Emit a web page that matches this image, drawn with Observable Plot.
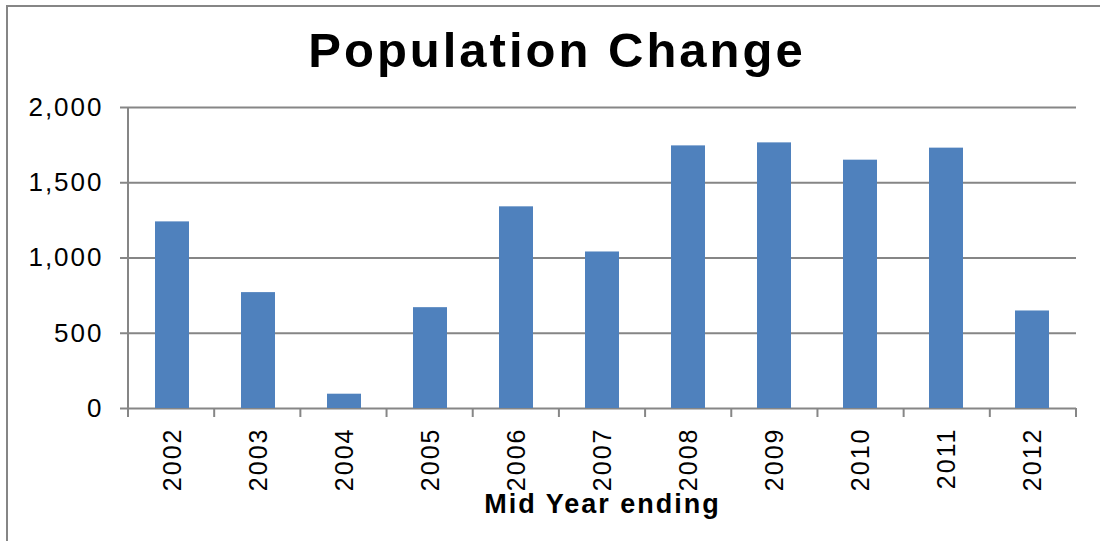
<!DOCTYPE html>
<html>
<head>
<meta charset="utf-8">
<script src="https://cdn.jsdelivr.net/npm/d3@7"></script>
<script src="https://cdn.jsdelivr.net/npm/@observablehq/plot@0.6"></script>
<style>
  html, body { margin: 0; padding: 0; background: #fff; overflow: hidden; }
  #wrap { position: relative; width: 1100px; height: 541px; overflow: hidden; background: #fff; font-family: "Liberation Sans", Arial, sans-serif; }
  #border { position: absolute; left: 6px; top: 5px; width: 1200px; height: 700px; border-top: 2px solid #868686; border-left: 2px solid #868686; }
  #title { position: absolute; left: 14px; top: 26px; width: 1086px; text-align: center; font-size: 49px; line-height: 49px; font-weight: bold; letter-spacing: 3px; color: #000; }
  #chart { position: absolute; left: 0; top: 75px; }
</style>
</head>
<body>
<div id="wrap">
  <div id="border"></div>
  <div id="title">Population Change</div>
  <div id="chart"></div>
</div>
<script>
const titleText = "Population Change";
const xLabel = "Mid Year ending";
const years = ["2002", "2003", "2004", "2005", "2006", "2007", "2008", "2009", "2010", "2011", "2012"];
const changes = [1240, 770, 95, 670, 1340, 1040, 1745, 1765, 1650, 1730, 648];
const yTicks = [0, 500, 1000, 1500, 2000];

const data = years.map((y, i) => ({year: y, value: changes[i]}));
const grey = "#868686";

const axisLines = (index, scales, values, dims) => {
  const g = d3.create("svg:g").attr("stroke", grey).attr("stroke-width", 2);
  const bottom = dims.height - dims.marginBottom;
  const left = dims.marginLeft;
  const right = dims.width - dims.marginRight;
  g.append("line").attr("x1", left).attr("x2", left)
    .attr("y1", scales.y(d3.max(yTicks))).attr("y2", bottom + 9);
  const step = (right - left) / years.length;
  d3.range(years.length + 1).forEach(i => {
    const x = left + i * step;
    g.append("line").attr("x1", x).attr("x2", x).attr("y1", bottom).attr("y2", bottom + 9);
  });
  return g.node();
};

const chart = Plot.plot({
  width: 1100,
  height: 466,
  marginTop: 32,
  marginBottom: 133,
  marginLeft: 128,
  marginRight: 24,
  style: {fontFamily: "Liberation Sans, Arial, sans-serif", fontSize: "26px", color: "#000", background: "transparent", letterSpacing: "2px", overflow: "visible"},
  x: {domain: years, paddingInner: 0.6, paddingOuter: 0.3, label: null},
  y: {domain: [0, 2000], label: null},
  marks: [
    Plot.gridY(yTicks, {stroke: grey, strokeOpacity: 1, strokeWidth: 2}),
    Plot.barY(data, {x: "year", y: "value", fill: "#4F81BD"}),
    Plot.axisY(yTicks, {tickSize: 8, tickPadding: 17, tickFormat: d3.format(","), stroke: grey, strokeWidth: 2, fill: "#000", label: null}),
    Plot.axisX({tickSize: 0, tickPadding: 19, tickRotate: -90, fill: "#000", label: null, fontSize: 25, style: {letterSpacing: "1.5px"}}),
    axisLines,
    Plot.text([xLabel], {frameAnchor: "bottom", dy: 104, text: d => d, fontWeight: "bold", fontSize: 27, fill: "#000"})
  ]
});
document.getElementById("chart").appendChild(chart);
</script>
</body>
</html>
